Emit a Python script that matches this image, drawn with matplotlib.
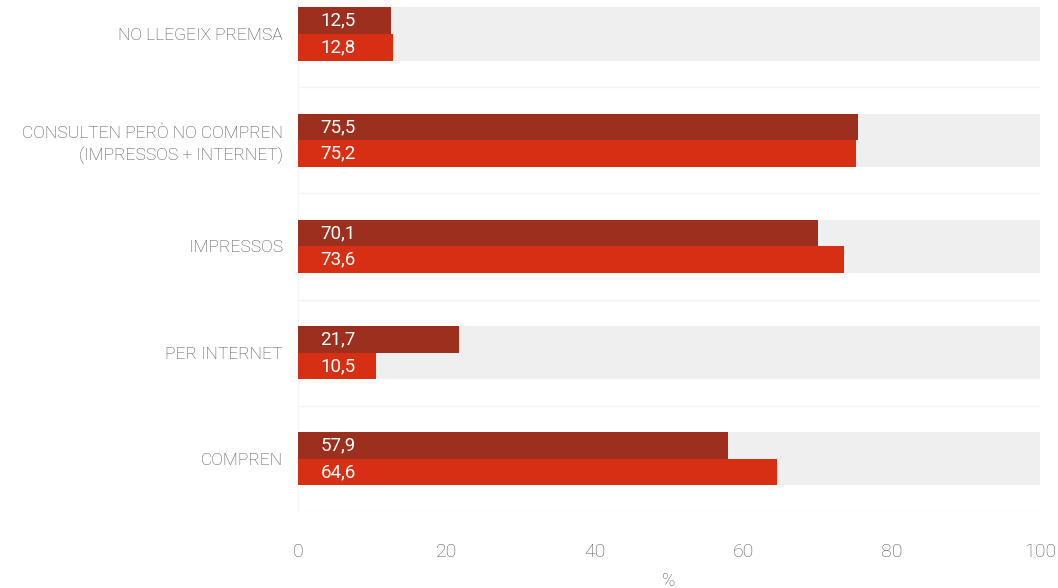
import matplotlib
matplotlib.use('Agg')
import matplotlib.pyplot as plt

categories = [
    "NO LLEGEIX PREMSA",
    "CONSULTEN PERÒ NO COMPREN\n(IMPRESSOS + INTERNET)",
    "IMPRESSOS",
    "PER INTERNET",
    "COMPREN",
]
serie_a = [12.5, 75.5, 70.1, 21.7, 57.9]   # barra fosca (a dalt)
serie_b = [12.8, 75.2, 73.6, 10.5, 64.6]   # barra vermella (a baix)
x_ticks = [0, 20, 40, 60, 80, 100]

plt.rcParams['font.family'] = ['Roboto', 'DejaVu Sans']

dark = '#9c2f1d'
bright = '#d62f14'
grey_txt = '#4d4d4d'

fig = plt.figure(figsize=(10.58, 5.88), dpi=100)
ax = fig.add_axes([298 / 1058, 76 / 588, 742 / 1058, 512 / 588])

h = 0.25
ypos = list(range(len(categories)))
ax.barh(ypos, [100] * len(categories), height=2 * h, color='#efefef', zorder=1)
ax.barh([y - h / 2 for y in ypos], serie_a, height=h, color=dark, zorder=2)
ax.barh([y + h / 2 for y in ypos], serie_b, height=h, color=bright, zorder=2)

for y, a, b in zip(ypos, serie_a, serie_b):
    ax.text(3, y - h / 2, f"{a:.1f}".replace('.', ','), color='white',
            va='center', ha='left', fontsize=13.5, zorder=3)
    ax.text(3, y + h / 2, f"{b:.1f}".replace('.', ','), color='white',
            va='center', ha='left', fontsize=13.5, zorder=3)

# línies de separació molt suaus
for y in [0.5, 1.5, 2.5, 3.5, 4.5]:
    ax.plot([0, 100], [y, y], color='#f4f4f4', lw=1, zorder=0)
ax.plot([0, 0], [-0.32, 4.5], color='#f4f4f4', lw=1, zorder=0)

ax.set_xlim(0, 100)
ax.set_ylim(4.5, -0.32)
ax.set_yticks(ypos)
ax.set_yticklabels(categories, fontsize=12.5, color=grey_txt, linespacing=1.4,
                   fontweight='light')
ax.set_xticks(x_ticks)
ax.set_xticklabels([str(t) for t in x_ticks], fontsize=14, color='#5a5a5a',
                   fontweight='light')
ax.tick_params(axis='x', length=0, pad=22)
ax.tick_params(axis='y', length=0, pad=11)
ax.set_xlabel('%', fontsize=13, color='#5a5a5a', labelpad=8, fontweight='light')
for s in ax.spines.values():
    s.set_visible(False)

fig.savefig('out.png', dpi=100)
